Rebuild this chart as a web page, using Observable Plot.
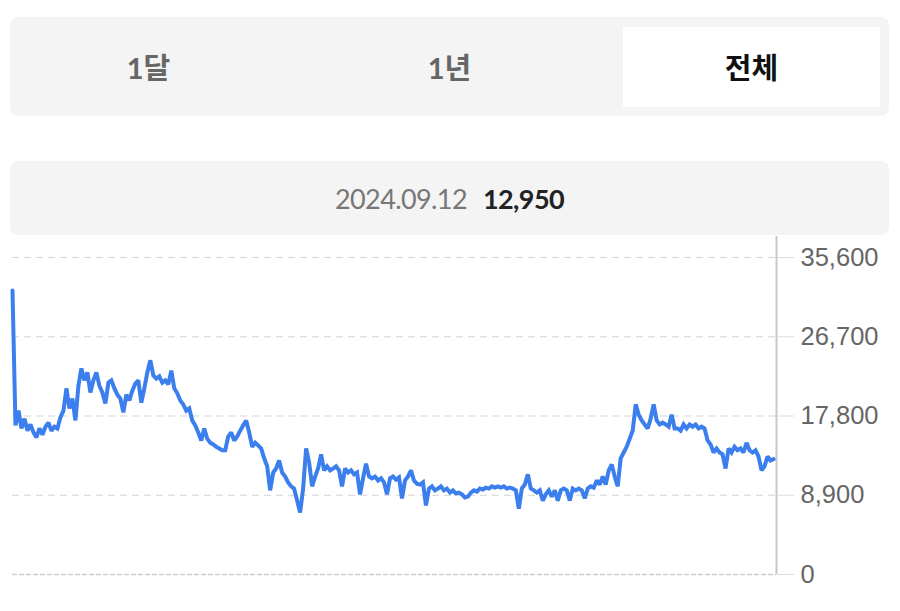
<!DOCTYPE html>
<html>
<head>
<meta charset="utf-8">
<script src="https://cdn.jsdelivr.net/npm/d3@7"></script>
<script src="https://cdn.jsdelivr.net/npm/@observablehq/plot@0.6"></script>
<style>
  html, body { margin: 0; padding: 0; background: #fff; width: 900px; height: 611px; overflow: hidden; }
  body { position: relative; font-family: "Lato", "Noto Sans CJK KR", sans-serif; }
  .tabs { position: absolute; left: 10px; top: 17px; width: 879px; height: 99px; background: #f4f4f4; border-radius: 8px; }
  .tab { position: absolute; top: 10px; height: 80px; line-height: 82px; text-align: center; font-size: 29px; font-weight: 700; color: #666; font-family: "Lato", "Noto Sans CJK KR", sans-serif; }
  .tab.sel { background: #fff; color: #111; }
  .info { position: absolute; left: 10px; top: 161px; width: 879px; height: 74px; background: #f4f4f4; border-radius: 8px; text-align: center; line-height: 76px; font-size: 27px; letter-spacing: -0.6px; }
  .info .d { color: #777; margin-right: 16px; }
  .info .v { color: #222; font-weight: 700; }
  #chart { position: absolute; left: 0; top: 236px; }
</style>
</head>
<body>
<div class="tabs" id="tabs"></div>
<div class="info" id="info"></div>
<div id="chart"></div>
<script>
const tabLabels = ["1달", "1년", "전체"];
const selectedTab = "전체";
const infoDate = "2024.09.12";
const infoValue = 12950;
const yTicks = [0, 8900, 17800, 26700, 35600];
const prices = [
  31900,16750,18400,16400,17500,16150,16850,15950,15400,16400,
  15700,16600,17050,16150,16600,16400,17650,18400,20900,18650,
  19750,17300,21200,23150,21800,22700,20450,21800,22700,21200,
  20450,19200,21550,21800,20900,20200,19750,18200,20200,19550,
  20650,21450,21800,19300,20900,22700,24050,22350,22000,22250,
  21550,21800,21350,22900,20900,20350,19550,19100,18400,18650,
  17300,16750,15950,15050,16400,15250,14800,14600,14350,14150,
  13950,13950,15500,15950,15050,15500,16150,16750,17300,15950,
  14350,14800,14500,14150,13050,12150,9450,11450,11900,12800,
  11450,11000,10350,9900,9650,8300,6950,9650,14150,12600,
  9900,11000,11900,13500,11700,12150,11700,11900,12150,11700,
  9900,11900,11450,11700,11250,11450,9000,10800,12450,11000,
  10800,11000,10550,10800,10350,9000,10800,11000,10650,10900,
  8550,10550,11000,11700,10550,10200,10100,10350,7750,9650,
  9900,9450,9650,9900,9450,9650,9200,9450,9100,9200,
  9000,8650,8750,9200,9450,9300,9650,9550,9750,9650,
  9900,9750,9900,9750,9900,9650,9750,9650,9450,7400,
  9650,10100,11250,9650,9450,9200,9450,8300,9000,9450,
  8750,9450,8300,9450,9650,9450,8300,9650,9450,9650,
  9450,8550,9650,9900,9750,10550,10100,11000,10100,11700,
  12350,11000,9900,13050,13700,14350,15250,16150,19100,17950,
  17300,16850,16400,17500,19100,17300,16850,17050,16850,16600,
  17950,16400,16400,16150,16850,16400,16850,16600,16850,16400,
  16600,16400,15050,14600,13700,14150,13700,13500,11900,14150,
  13700,14350,13950,14150,13700,14800,13950,13700,13950,13250,
  11700,12150,13250,12800,12950
];

// tabs
const tabsEl = document.getElementById("tabs");
const tabPos = [{left: 10, width: 257}, {left: 311, width: 257}, {left: 613, width: 257}];
tabLabels.forEach((t, i) => {
  const d = document.createElement("div");
  d.className = "tab" + (t === selectedTab ? " sel" : "");
  d.style.left = tabPos[i].left + "px";
  d.style.width = tabPos[i].width + "px";
  d.textContent = t;
  tabsEl.appendChild(d);
});
document.getElementById("info").innerHTML =
  `<span class="d">${infoDate}</span><span class="v">${d3.format(",")(infoValue)}</span>`;

const data = prices.map((v, i) => ({i, v}));

const chart = Plot.plot({
  width: 900,
  height: 375,
  marginTop: 21,
  marginBottom: 37,
  marginLeft: 12,
  marginRight: 124,
  style: {background: "transparent", fontFamily: "'Liberation Sans', Arial, sans-serif"},
  x: {domain: [0, prices.length], axis: null},
  y: {domain: [0, 35600]},
  marks: [
    Plot.ruleY(yTicks.filter(d => d > 0), {stroke: "#d4d4d4", strokeDasharray: "7,5", strokeWidth: 1.2}),
    Plot.ruleY([0], {stroke: "#cfcfcf", strokeDasharray: "5,2", strokeWidth: 1.5}),
    Plot.ruleX([prices.length], {stroke: "#c8c8c8", strokeWidth: 2, insetTop: -21}),
    Plot.axisY({
      anchor: "right",
      ticks: yTicks,
      tickSize: 17,
      tickPadding: 7,
      stroke: "#dcdcdc",
      fill: "#666",
      fontSize: 25.5,
      tickFormat: d3.format(","),
      label: null
    }),
    Plot.line(data, {x: "i", y: "v", stroke: "#3b7eee", strokeWidth: 4, strokeLinejoin: "miter", strokeMiterlimit: 2})
  ]
});
document.getElementById("chart").appendChild(chart);
</script>
</body>
</html>
